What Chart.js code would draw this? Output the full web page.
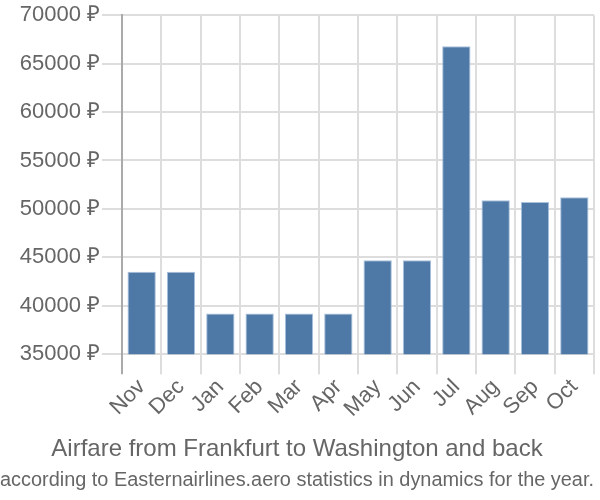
<!DOCTYPE html>
<html>
<head>
<meta charset="utf-8">
<script src="https://cdn.jsdelivr.net/npm/chart.js@4/dist/chart.umd.min.js"></script>
<style>
  html, body { margin: 0; padding: 0; background: #fff; }
  #wrap { width: 600px; height: 500px; }
</style>
</head>
<body>
<div id="wrap"><canvas id="priceChart"></canvas></div>
<script>
const months = ['Nov', 'Dec', 'Jan', 'Feb', 'Mar', 'Apr', 'May', 'Jun', 'Jul', 'Aug', 'Sep', 'Oct'];
const prices = [43500, 43500, 39200, 39200, 39200, 39200, 44700, 44700, 66800, 50900, 50700, 51200];
const yMin = 35000;
const yMax = 70000;
const yStep = 5000;
const titleText = 'Airfare from Frankfurt to Washington and back';
const subtitleText = 'according to Easternairlines.aero statistics in dynamics for the year.';

Chart.defaults.font.family = '"Liberation Sans", Arial, sans-serif';
Chart.defaults.color = '#666';

function initChart() {
    const ctx = document.getElementById('priceChart').getContext('2d');
    // bottom boxes stack in reverse, so the subtitle plugin carries the main line here
    new Chart(ctx, {
        type: 'bar',
        data: {
            labels: months,
            datasets: [{
                label: 'Price',
                data: prices,
                backgroundColor: '#4e79a7',
                borderColor: '#a9c1dc',
                borderWidth: 1
            }]
        },
        options: {
            responsive: true,
            maintainAspectRatio: false,
            animation: false,
            layout: { padding: { top: 4, right: 6, left: 0, bottom: 0 } },
            scales: {
                x: {
                    grid: {
                        color: c => c.index === 0 ? '#aaa' : '#ddd',
                        lineWidth: 2,
                        tickLength: 20
                    },
                    border: { color: '#ddd', width: 2 },
                    ticks: {
                        font: { size: 22 },
                        autoSkip: false,
                        maxRotation: 45,
                        minRotation: 45,
                        color: '#666',
                        padding: 0
                    }
                },
                y: {
                    min: yMin,
                    max: yMax,
                    afterFit: scale => { scale.width = 122; },
                    grid: { color: '#ddd', lineWidth: 2, tickLength: 20 },
                    border: { color: '#aaa', width: 2 },
                    ticks: {
                        stepSize: yStep,
                        font: { size: 22 },
                        color: '#666',
                        padding: 2,
                        callback: v => v + ' ₽'
                    }
                }
            },
            plugins: {
                legend: { display: false },
                tooltip: { enabled: false },
                subtitle: {
                    display: true,
                    position: 'bottom',
                    text: titleText,
                    font: { size: 24 },
                    color: '#666',
                    padding: { top: 13, bottom: 0 }
                },
                title: {
                    display: true,
                    position: 'bottom',
                    text: subtitleText,
                    font: { size: 20, weight: 'normal' },
                    color: '#666',
                    padding: { top: 4, bottom: 8 }
                }
            }
        }
    });
}

window.onload = initChart;
</script>
</body>
</html>
